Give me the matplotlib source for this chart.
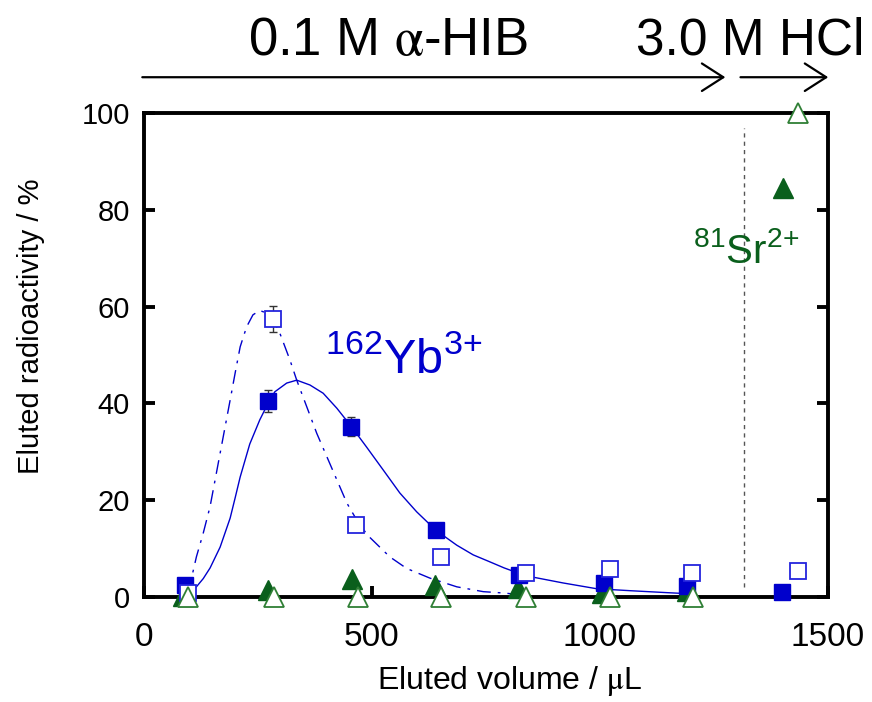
import matplotlib
matplotlib.use("Agg")
import matplotlib.pyplot as plt
from matplotlib.patches import FancyArrowPatch

plt.rcParams['font.family'] = ['Liberation Sans', 'DejaVu Sans']
plt.rcParams['mathtext.fontset'] = 'custom'
plt.rcParams['mathtext.rm'] = 'Liberation Sans'
plt.rcParams['mathtext.it'] = 'Liberation Sans:italic'

# Daten
yb_full_x = [90, 273, 455, 640, 822, 1009, 1191, 1399]
yb_full_y = [2.5, 40.5, 35.2, 13.8, 4.5, 2.9, 2.3, 1.0]
yb_open_x = [96, 282, 466, 651, 838, 1022, 1202, 1434]
yb_open_y = [0.9, 57.4, 14.9, 8.3, 5.0, 5.8, 5.0, 5.4]
sr_full_x = [85, 272, 456, 638, 820, 1005, 1190, 1401]
sr_full_y = [0.3, 1.4, 3.8, 2.4, 1.8, 0.8, 1.2, 84.5]
sr_open_x = [96, 285, 469, 652, 838, 1022, 1204, 1434]
sr_open_y = [0, 0, 0, 0, 0, 0, 0, 100]

# Fehlerbalken
err_x = [273, 455, 282]
err_y = [40.5, 35.2, 57.4]
err_v = [2.2, 2.0, 2.7]

# Fit-Kurven
fit_full_x = [100, 115, 130, 145, 167, 189, 200, 211, 232, 254, 272, 287, 313, 335, 364,
              393, 423, 455, 488, 525, 561, 598, 640, 686, 722, 755, 790, 822, 853, 919,
              993, 1066, 1146, 1210]
fit_full_y = [0.8, 2.1, 3.8, 6.0, 10.3, 16.3, 20.5, 24.8, 31.6, 36.6, 40.0, 42.4, 44.2,
              44.8, 43.8, 42.1, 39.0, 35.2, 31.0, 26.2, 21.5, 17.6, 13.8, 10.7, 8.7, 7.4,
              6.0, 4.9, 4.1, 2.9, 1.7, 1.3, 0.9, 0.6]
fit_open_x = [96, 105, 115, 130, 145, 156, 167, 178, 189, 200, 211, 225, 239, 254, 268,
              283, 298, 320, 335, 357, 379, 401, 423, 445, 466, 490, 539, 576, 627, 686,
              744, 792, 820]
fit_open_y = [0.9, 4.2, 8.3, 13.2, 18.7, 24.2, 29.7, 35.2, 40.7, 46.3, 51.7, 55.8, 58.3,
              59.2, 58.7, 57.3, 54.5, 49.0, 44.8, 39.3, 33.8, 29.0, 24.2, 19.4, 16.0,
              12.8, 8.3, 5.9, 3.9, 2.1, 1.1, 0.8, 0.5]

sep_x = 1315
sep_y = [2, 97]

BLUE = '#0000CC'
BLUE_EDGE = '#2424DD'
GREEN = '#0A5F1C'
GREEN_EDGE = '#2F7F35'

fig = plt.figure(figsize=(8.72, 7.02), dpi=100)
ax = fig.add_axes([0.1651, 0.1496, 0.7844, 0.6894])

ax.plot(fit_full_x, fit_full_y, color=BLUE, lw=1.0, zorder=2)
ax.plot(fit_open_x, fit_open_y, color=BLUE, lw=1.0, ls=(0, (10, 5, 2, 5)), zorder=2)
ax.plot([sep_x, sep_x], sep_y, color='#555555', lw=1.0, ls=(0, (3, 3)), zorder=2)

ax.errorbar(err_x, err_y, yerr=err_v, fmt='none', ecolor='#333333', elinewidth=1.0,
            capsize=3, capthick=1.0, zorder=3)

ax.plot(sr_full_x, sr_full_y, '^', ms=15, color=GREEN, mec=GREEN, ls='none',
        clip_on=False, zorder=4)
ax.plot(yb_full_x, yb_full_y, 's', ms=12, color=BLUE, mec=BLUE, ls='none',
        clip_on=False, zorder=5)
ax.plot(yb_open_x, yb_open_y, 's', ms=12, mfc='white', mec=BLUE_EDGE, mew=1.3, ls='none',
        clip_on=False, zorder=6)
ax.plot(sr_open_x, sr_open_y, '^', ms=15, mfc='white', mec=GREEN_EDGE, mew=1.3, ls='none',
        clip_on=False, zorder=7)

ax.set_xlim(0, 1500)
ax.set_ylim(0, 100)
ax.set_xticks([0, 500, 1000, 1500])
ax.set_yticks([0, 20, 40, 60, 80, 100])
for s in ax.spines.values():
    s.set_linewidth(2.8)
ax.tick_params(axis='both', direction='in', length=8, width=2.8)
ax.tick_params(axis='y', right=True, labelsize=21, pad=10)
ax.tick_params(axis='x', labelsize=24, pad=18)

ax.set_xlabel(r'Eluted volume / $\mathrm{\mu}$L', fontsize=23, math_fontfamily='stix')
ax.xaxis.set_label_coords(0.535, -0.138)
ax.set_ylabel('Eluted radioactivity / %', fontsize=21)
ax.yaxis.set_label_coords(-0.145, 0.56)

ax.text(397, 46.3, r'$\mathrm{^{162}Yb^{3{+}}}$', color=BLUE, fontsize=35,
        ha='left', va='baseline')
ax.text(1204, 69, r'$\mathrm{^{81}Sr^{2{+}}}$', color=GREEN, fontsize=29,
        ha='left', va='baseline')

# Laufmittel oben
fig.text(0.284, 0.922, r'0.1 M $\mathrm{\alpha}$-HIB', fontsize=38, math_fontfamily='stix',
         ha='left', va='baseline')
fig.text(0.729, 0.922, '3.0 M HCl', fontsize=37, ha='left', va='baseline')

for x0, x1 in [(0.160, 0.835), (0.846, 0.953)]:
    arr = FancyArrowPatch((x0, 0.890), (x1, 0.890), transform=fig.transFigure,
                          arrowstyle='->,head_length=0.7,head_width=0.45',
                          mutation_scale=22, lw=1.6, color='black')
    fig.add_artist(arr)

fig.savefig('out.png', dpi=100)
